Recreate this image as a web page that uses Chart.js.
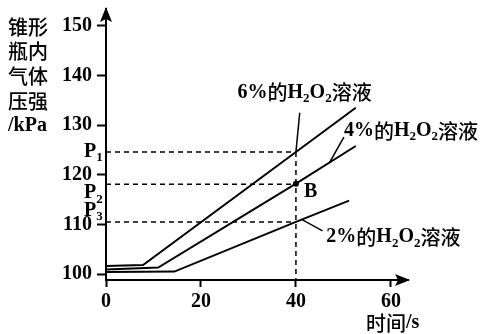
<!DOCTYPE html>
<html>
<head>
<meta charset="utf-8">
<script src="https://cdn.jsdelivr.net/npm/chart.js@4.4.1/dist/chart.umd.min.js"></script>
<style>
  html, body { margin: 0; padding: 0; background: #fff; }
  #wrap { width: 482px; height: 334px; position: relative; }
</style>
</head>
<body>
<div id="wrap"><canvas id="c" width="482" height="334"></canvas></div>
<script>
// time (s) and pressure (kPa)
const t6 = [0, 7.8, 40, 52.6];
const p6 = [101.6, 101.8, 124.6, 133.5];
const t4 = [0, 11, 40, 52.6];
const p4 = [100.9, 101.3, 118.2, 125.8];
const t2 = [0, 14.4, 40, 51.2];
const p2 = [100.4, 100.5, 110.5, 114.8];

const pLevels = [124.6, 118.1, 110.5];   // P1, P2, P3
const pNames = ['1', '2', '3'];
const markT = 40;

const xTicks = [0, 20, 40, 60];
const yTicks = [100, 110, 120, 130, 140, 150];
const X_MIN = 0, X_MAX = 63.6, Y_MIN = 98.8, Y_MAX = 153.4;

const SERIF = '"Liberation Serif", serif';
const CJK = '"Noto Sans CJK SC", sans-serif';

function pts(xs, ys) { return xs.map((x, i) => ({ x: x, y: ys[i] })); }

const curve = (xs, ys) => ({
  data: pts(xs, ys), borderColor: '#000', borderWidth: 2,
  pointRadius: 0, tension: 0, fill: false
});
const dashed = (data) => ({
  data: data, borderColor: '#000', borderWidth: 1.5, borderDash: [5, 4],
  pointRadius: 0, tension: 0, fill: false
});

const datasets = [];
pLevels.forEach(p => datasets.push(dashed([{ x: X_MIN, y: p }, { x: markT, y: p }])));
datasets.push(dashed([{ x: markT, y: pLevels[0] }, { x: markT, y: Y_MIN }]));
datasets.push(curve(t6, p6));
datasets.push(curve(t4, p4));
datasets.push(curve(t2, p2));
// point B
datasets.push({
  data: [{ x: markT, y: p4[2] }], showLine: false,
  pointRadius: 3, pointBackgroundColor: '#000', pointBorderWidth: 0
});

// curve labels: text anchor, leader line from / to (data units)
const labels = [
  { pct: '6%', at: [27.7, 136.6], from: [40.8, 132.5], to: [markT, pLevels[0]] },
  { pct: '4%', at: [50.1, 128.8], from: [50.1, 127.6], to: [47.1, 122.5] },
  { pct: '2%', at: [46.4, 107.4], from: [45.6, 108.7], to: [41.2, 111.0] }
];

// parts: [text, kind] kind: 'l' latin, 'c' chinese, 's' subscript
function richText(ctx, x, y, parts) {
  parts.forEach(([s, k]) => {
    if (k === 's') ctx.font = 'bold 13px ' + SERIF;
    else if (k === 'c') ctx.font = '500 20px ' + CJK;
    else ctx.font = 'bold 20px ' + SERIF;
    ctx.fillText(s, x, k === 's' ? y + 6 : y);
    x += ctx.measureText(s).width;
  });
}

const extras = {
  id: 'extras',
  afterDraw(chart) {
    const ctx = chart.ctx;
    const xs = chart.scales.x, ys = chart.scales.y;
    const a = chart.chartArea;
    const px = v => xs.getPixelForValue(v), py = v => ys.getPixelForValue(v);
    ctx.save();
    ctx.fillStyle = '#000';
    ctx.strokeStyle = '#000';

    // axis arrows
    ctx.beginPath();
    ctx.moveTo(a.left, a.top - 2);
    ctx.lineTo(a.left - 6, a.top + 13);
    ctx.lineTo(a.left, a.top + 10);
    ctx.lineTo(a.left + 6, a.top + 13);
    ctx.closePath();
    ctx.fill();
    ctx.beginPath();
    ctx.moveTo(a.right + 2, a.bottom);
    ctx.lineTo(a.right - 13, a.bottom - 6);
    ctx.lineTo(a.right - 10, a.bottom);
    ctx.lineTo(a.right - 13, a.bottom + 6);
    ctx.closePath();
    ctx.fill();

    // leader lines and curve labels
    ctx.lineWidth = 1.5;
    ctx.textBaseline = 'middle';
    labels.forEach(l => {
      ctx.beginPath();
      ctx.moveTo(px(l.from[0]), py(l.from[1]));
      ctx.lineTo(px(l.to[0]), py(l.to[1]));
      ctx.stroke();
      richText(ctx, px(l.at[0]), py(l.at[1]),
        [[l.pct, 'l'], ['的', 'c'], ['H', 'l'], ['2', 's'], ['O', 'l'], ['2', 's'], ['溶液', 'c']]);
    });

    // B
    richText(ctx, px(markT) + 8, py(p4[2]) + 8, [['B', 'l']]);

    // P1, P2, P3
    const pOff = [0, 9, -11];
    pLevels.forEach((p, i) => {
      richText(ctx, a.left - 22, py(p) + pOff[i], [['P', 'l'], [pNames[i], 's']]);
    });

    // axis titles
    ['锥形', '瓶内', '气体', '压强'].forEach((s, i) => {
      richText(ctx, 8, 27 + i * 24.8, [[s, 'c']]);
    });
    richText(ctx, 8, 126, [['/kPa', 'l']]);
    richText(ctx, 366, 323, [['时间', 'c'], ['/s', 'l']]);
    ctx.restore();
  }
};

function noPad(s) {
  s.paddingTop = 0; s.paddingBottom = 0; s.paddingLeft = 0; s.paddingRight = 0;
}

new Chart(document.getElementById('c'), {
  type: 'line',
  data: { datasets: datasets },
  options: {
    responsive: false,
    animation: false,
    events: [],
    layout: { padding: { top: 9, right: 74, left: 0, bottom: 0 } },
    plugins: { legend: { display: false }, tooltip: { enabled: false } },
    scales: {
      x: {
        type: 'linear', min: X_MIN, max: X_MAX,
        afterBuildTicks: s => { s.ticks = xTicks.map(v => ({ value: v })); },
        afterFit: s => { s.height = 54; noPad(s); },
        grid: { drawOnChartArea: false, drawTicks: true, tickLength: 7, tickColor: '#000', tickWidth: 2 },
        border: { display: true, color: '#000', width: 2 },
        ticks: { color: '#000', padding: 3, maxRotation: 0, font: { family: SERIF, size: 20, weight: 'bold' } }
      },
      y: {
        type: 'linear', min: Y_MIN, max: Y_MAX,
        afterBuildTicks: s => { s.ticks = yTicks.map(v => ({ value: v })); },
        afterFit: s => { s.width = 106; noPad(s); },
        grid: { drawOnChartArea: false, drawTicks: true, tickLength: 9, tickColor: '#000', tickWidth: 2 },
        border: { display: true, color: '#000', width: 2 },
        ticks: { color: '#000', padding: 5, font: { family: SERIF, size: 20, weight: 'bold' } }
      }
    }
  },
  plugins: [extras]
});
</script>
</body>
</html>
